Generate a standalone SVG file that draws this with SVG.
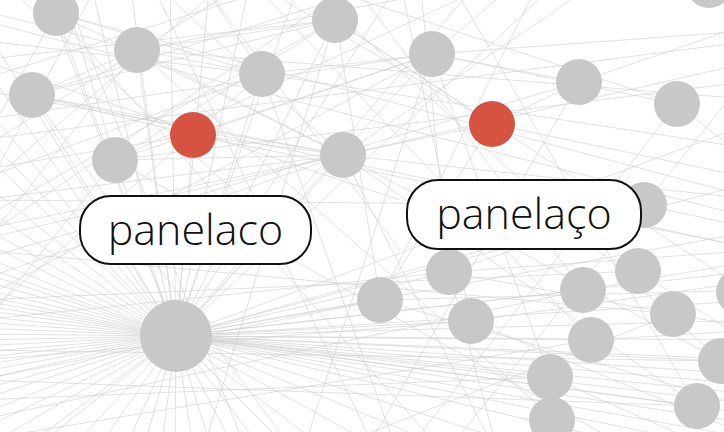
<svg xmlns="http://www.w3.org/2000/svg" width="724" height="432" viewBox="0 0 724 432">
<style>
.e{stroke:#cfcfcf;stroke-width:1;stroke-opacity:0.6;fill:none}
.n{fill:#c8c8c8}
.r{fill:#d65342}
.lb{fill:#fff;stroke:#111;stroke-width:2}
.t{font-family:"Open Sans","Noto Sans",sans-serif;font-size:43px;font-weight:350;fill:#111;text-anchor:middle}
</style>
<rect width="724" height="432" fill="#fff"/>
<g id="edges">
<line class="e" x1="176" y1="336" x2="-20" y2="150"/>
<line class="e" x1="176" y1="336" x2="-20" y2="180"/>
<line class="e" x1="176" y1="336" x2="-20" y2="205"/>
<line class="e" x1="176" y1="336" x2="-20" y2="225"/>
<line class="e" x1="176" y1="336" x2="-20" y2="240"/>
<line class="e" x1="176" y1="336" x2="-20" y2="255"/>
<line class="e" x1="176" y1="336" x2="-20" y2="265"/>
<line class="e" x1="176" y1="336" x2="-20" y2="272"/>
<line class="e" x1="176" y1="336" x2="-20" y2="280"/>
<line class="e" x1="176" y1="336" x2="-20" y2="288"/>
<line class="e" x1="176" y1="336" x2="-20" y2="295"/>
<line class="e" x1="176" y1="336" x2="-20" y2="300"/>
<line class="e" x1="176" y1="336" x2="-20" y2="305"/>
<line class="e" x1="176" y1="336" x2="-20" y2="310"/>
<line class="e" x1="176" y1="336" x2="-20" y2="316"/>
<line class="e" x1="176" y1="336" x2="-20" y2="322"/>
<line class="e" x1="176" y1="336" x2="-20" y2="328"/>
<line class="e" x1="176" y1="336" x2="-20" y2="334"/>
<line class="e" x1="176" y1="336" x2="-20" y2="340"/>
<line class="e" x1="176" y1="336" x2="-20" y2="346"/>
<line class="e" x1="176" y1="336" x2="-20" y2="352"/>
<line class="e" x1="176" y1="336" x2="-20" y2="358"/>
<line class="e" x1="176" y1="336" x2="-20" y2="365"/>
<line class="e" x1="176" y1="336" x2="-20" y2="372"/>
<line class="e" x1="176" y1="336" x2="-20" y2="380"/>
<line class="e" x1="176" y1="336" x2="-20" y2="390"/>
<line class="e" x1="176" y1="336" x2="-20" y2="400"/>
<line class="e" x1="176" y1="336" x2="-20" y2="415"/>
<line class="e" x1="176" y1="336" x2="-20" y2="430"/>
<line class="e" x1="176" y1="336" x2="-20" y2="450"/>
<line class="e" x1="176" y1="336" x2="-20" y2="130"/>
<line class="e" x1="176" y1="336" x2="-20" y2="100"/>
<line class="e" x1="176" y1="336" x2="-20" y2="60"/>
<line class="e" x1="176" y1="336" x2="-20" y2="20"/>
<line class="e" x1="176" y1="336" x2="-20" y2="480"/>
<line class="e" x1="176" y1="336" x2="20" y2="460"/>
<line class="e" x1="176" y1="336" x2="60" y2="460"/>
<line class="e" x1="176" y1="336" x2="90" y2="460"/>
<line class="e" x1="176" y1="336" x2="120" y2="460"/>
<line class="e" x1="176" y1="336" x2="140" y2="460"/>
<line class="e" x1="176" y1="336" x2="160" y2="460"/>
<line class="e" x1="176" y1="336" x2="175" y2="460"/>
<line class="e" x1="176" y1="336" x2="195" y2="460"/>
<line class="e" x1="176" y1="336" x2="215" y2="460"/>
<line class="e" x1="176" y1="336" x2="240" y2="460"/>
<line class="e" x1="176" y1="336" x2="270" y2="460"/>
<line class="e" x1="176" y1="336" x2="300" y2="460"/>
<line class="e" x1="176" y1="336" x2="340" y2="460"/>
<line class="e" x1="176" y1="336" x2="420" y2="470"/>
<line class="e" x1="176" y1="336" x2="500" y2="470"/>
<line class="e" x1="176" y1="336" x2="600" y2="470"/>
<line class="e" x1="176" y1="336" x2="740" y2="470"/>
<line class="e" x1="176" y1="336" x2="760" y2="455"/>
<line class="e" x1="176" y1="336" x2="760" y2="440"/>
<line class="e" x1="176" y1="336" x2="760" y2="425"/>
<line class="e" x1="176" y1="336" x2="760" y2="415"/>
<line class="e" x1="176" y1="336" x2="760" y2="405"/>
<line class="e" x1="176" y1="336" x2="760" y2="395"/>
<line class="e" x1="176" y1="336" x2="760" y2="385"/>
<line class="e" x1="176" y1="336" x2="760" y2="375"/>
<line class="e" x1="176" y1="336" x2="760" y2="360"/>
<line class="e" x1="176" y1="336" x2="760" y2="340"/>
<line class="e" x1="176" y1="336" x2="760" y2="320"/>
<line class="e" x1="176" y1="336" x2="760" y2="300"/>
<line class="e" x1="176" y1="336" x2="760" y2="270"/>
<line class="e" x1="176" y1="336" x2="760" y2="230"/>
<line class="e" x1="176" y1="336" x2="760" y2="180"/>
<line class="e" x1="176" y1="336" x2="760" y2="120"/>
<line class="e" x1="176" y1="336" x2="644" y2="205"/>
<line class="e" x1="176" y1="336" x2="583" y2="290"/>
<line class="e" x1="176" y1="336" x2="449" y2="272"/>
<line class="e" x1="176" y1="336" x2="380" y2="300"/>
<line class="e" x1="176" y1="336" x2="471" y2="321"/>
<line class="e" x1="176" y1="336" x2="590" y2="340"/>
<line class="e" x1="176" y1="336" x2="550" y2="377"/>
<line class="e" x1="176" y1="336" x2="697" y2="406"/>
<line class="e" x1="176" y1="336" x2="721" y2="361"/>
<line class="e" x1="176" y1="336" x2="343" y2="155"/>
<line class="e" x1="176" y1="336" x2="262" y2="74"/>
<line class="e" x1="176" y1="336" x2="335" y2="20"/>
<line class="e" x1="176" y1="336" x2="137" y2="50"/>
<line class="e" x1="176" y1="336" x2="115" y2="160"/>
<line class="e" x1="176" y1="336" x2="32" y2="95"/>
<line class="e" x1="176" y1="336" x2="56" y2="13"/>
<line class="e" x1="176" y1="336" x2="193" y2="135"/>
<line class="e" x1="176" y1="336" x2="432" y2="54"/>
<line class="e" x1="176" y1="336" x2="300" y2="-20"/>
<line class="e" x1="176" y1="336" x2="250" y2="-20"/>
<line class="e" x1="176" y1="336" x2="210" y2="-20"/>
<line class="e" x1="176" y1="336" x2="170" y2="-20"/>
<line class="e" x1="176" y1="336" x2="130" y2="-20"/>
<line class="e" x1="176" y1="336" x2="90" y2="-20"/>
<line class="e" x1="176" y1="336" x2="40" y2="-20"/>
<line class="e" x1="176" y1="336" x2="400" y2="-20"/>
<line class="e" x1="176" y1="336" x2="480" y2="-20"/>
<line class="e" x1="176" y1="336" x2="560" y2="-20"/>
<line class="e" x1="343" y1="155" x2="-20" y2="200"/>
<line class="e" x1="343" y1="155" x2="-20" y2="280"/>
<line class="e" x1="343" y1="155" x2="32" y2="95"/>
<line class="e" x1="343" y1="155" x2="115" y2="160"/>
<line class="e" x1="343" y1="155" x2="760" y2="60"/>
<line class="e" x1="343" y1="155" x2="760" y2="200"/>
<line class="e" x1="343" y1="155" x2="600" y2="-20"/>
<line class="e" x1="343" y1="155" x2="500" y2="460"/>
<line class="e" x1="343" y1="155" x2="137" y2="50"/>
<line class="e" x1="343" y1="155" x2="56" y2="13"/>
<line class="e" x1="343" y1="155" x2="721" y2="361"/>
<line class="e" x1="343" y1="155" x2="697" y2="406"/>
<line class="e" x1="343" y1="155" x2="-20" y2="90"/>
<line class="e" x1="343" y1="155" x2="-20" y2="240"/>
<line class="e" x1="343" y1="155" x2="150" y2="-20"/>
<line class="e" x1="137" y1="50" x2="-20" y2="10"/>
<line class="e" x1="137" y1="50" x2="760" y2="100"/>
<line class="e" x1="137" y1="50" x2="335" y2="20"/>
<line class="e" x1="137" y1="50" x2="262" y2="74"/>
<line class="e" x1="137" y1="50" x2="600" y2="460"/>
<line class="e" x1="137" y1="50" x2="32" y2="95"/>
<line class="e" x1="137" y1="50" x2="500" y2="-20"/>
<line class="e" x1="137" y1="50" x2="-20" y2="250"/>
<line class="e" x1="262" y1="74" x2="-20" y2="40"/>
<line class="e" x1="262" y1="74" x2="760" y2="150"/>
<line class="e" x1="262" y1="74" x2="432" y2="54"/>
<line class="e" x1="262" y1="74" x2="400" y2="460"/>
<line class="e" x1="262" y1="74" x2="-20" y2="180"/>
<line class="e" x1="262" y1="74" x2="200" y2="-20"/>
<line class="e" x1="262" y1="74" x2="-20" y2="320"/>
<line class="e" x1="32" y1="95" x2="400" y2="-20"/>
<line class="e" x1="32" y1="95" x2="760" y2="250"/>
<line class="e" x1="32" y1="95" x2="335" y2="20"/>
<line class="e" x1="32" y1="95" x2="300" y2="460"/>
<line class="e" x1="32" y1="95" x2="193" y2="135"/>
<line class="e" x1="56" y1="13" x2="760" y2="200"/>
<line class="e" x1="56" y1="13" x2="450" y2="460"/>
<line class="e" x1="56" y1="13" x2="262" y2="74"/>
<line class="e" x1="56" y1="13" x2="-20" y2="150"/>
<line class="e" x1="115" y1="160" x2="760" y2="80"/>
<line class="e" x1="115" y1="160" x2="500" y2="-20"/>
<line class="e" x1="115" y1="160" x2="-20" y2="330"/>
<line class="e" x1="115" y1="160" x2="432" y2="54"/>
<line class="e" x1="115" y1="160" x2="650" y2="460"/>
<line class="e" x1="115" y1="160" x2="60" y2="-20"/>
<line class="e" x1="335" y1="20" x2="-20" y2="220"/>
<line class="e" x1="335" y1="20" x2="760" y2="300"/>
<line class="e" x1="335" y1="20" x2="492" y2="124"/>
<line class="e" x1="335" y1="20" x2="200" y2="460"/>
<line class="e" x1="335" y1="20" x2="115" y2="160"/>
<line class="e" x1="335" y1="20" x2="-20" y2="60"/>
<line class="e" x1="432" y1="54" x2="-20" y2="120"/>
<line class="e" x1="432" y1="54" x2="-20" y2="300"/>
<line class="e" x1="432" y1="54" x2="760" y2="30"/>
<line class="e" x1="432" y1="54" x2="579" y2="82"/>
<line class="e" x1="432" y1="54" x2="550" y2="377"/>
<line class="e" x1="432" y1="54" x2="300" y2="460"/>
<line class="e" x1="432" y1="54" x2="677" y2="104"/>
<line class="e" x1="432" y1="54" x2="520" y2="-20"/>
<line class="e" x1="193" y1="135" x2="432" y2="54"/>
<line class="e" x1="193" y1="135" x2="343" y2="155"/>
<line class="e" x1="193" y1="135" x2="760" y2="250"/>
<line class="e" x1="193" y1="135" x2="-20" y2="170"/>
<line class="e" x1="492" y1="124" x2="579" y2="82"/>
<line class="e" x1="492" y1="124" x2="760" y2="180"/>
<line class="e" x1="492" y1="124" x2="250" y2="-20"/>
<line class="e" x1="492" y1="124" x2="380" y2="300"/>
<line class="e" x1="492" y1="124" x2="-20" y2="230"/>
<line class="e" x1="579" y1="82" x2="760" y2="20"/>
<line class="e" x1="579" y1="82" x2="360" y2="460"/>
<line class="e" x1="579" y1="82" x2="-20" y2="260"/>
<line class="e" x1="677" y1="104" x2="400" y2="460"/>
<line class="e" x1="677" y1="104" x2="300" y2="-20"/>
<line class="e" x1="677" y1="104" x2="760" y2="170"/>
<line class="e" x1="644" y1="205" x2="-20" y2="200"/>
<line class="e" x1="644" y1="205" x2="760" y2="230"/>
<line class="e" x1="644" y1="205" x2="449" y2="272"/>
<line class="e" x1="449" y1="272" x2="-20" y2="320"/>
<line class="e" x1="449" y1="272" x2="760" y2="330"/>
<line class="e" x1="449" y1="272" x2="760" y2="250"/>
<line class="e" x1="449" y1="272" x2="420" y2="-20"/>
<line class="e" x1="449" y1="272" x2="500" y2="460"/>
<line class="e" x1="380" y1="300" x2="-20" y2="380"/>
<line class="e" x1="380" y1="300" x2="760" y2="410"/>
<line class="e" x1="380" y1="300" x2="540" y2="-20"/>
<line class="e" x1="380" y1="300" x2="330" y2="-20"/>
<line class="e" x1="380" y1="300" x2="760" y2="290"/>
<line class="e" x1="471" y1="321" x2="-20" y2="360"/>
<line class="e" x1="471" y1="321" x2="760" y2="280"/>
<line class="e" x1="471" y1="321" x2="400" y2="-20"/>
<line class="e" x1="471" y1="321" x2="760" y2="440"/>
<line class="e" x1="583" y1="290" x2="-20" y2="420"/>
<line class="e" x1="583" y1="290" x2="760" y2="260"/>
<line class="e" x1="583" y1="290" x2="350" y2="-20"/>
<line class="e" x1="638" y1="271" x2="-20" y2="300"/>
<line class="e" x1="638" y1="271" x2="760" y2="350"/>
<line class="e" x1="673" y1="314" x2="-20" y2="250"/>
<line class="e" x1="673" y1="314" x2="300" y2="460"/>
<line class="e" x1="591" y1="340" x2="-20" y2="440"/>
<line class="e" x1="591" y1="340" x2="760" y2="330"/>
<line class="e" x1="591" y1="340" x2="250" y2="-20"/>
<line class="e" x1="550" y1="377" x2="-20" y2="400"/>
<line class="e" x1="550" y1="377" x2="760" y2="470"/>
<line class="e" x1="697" y1="406" x2="-20" y2="380"/>
<line class="e" x1="697" y1="406" x2="450" y2="-20"/>
<line class="e" x1="721" y1="361" x2="-20" y2="350"/>
<line class="e" x1="721" y1="361" x2="300" y2="-20"/>
<line class="e" x1="-20" y1="60" x2="400" y2="200"/>
<line class="e" x1="0" y1="-20" x2="300" y2="250"/>
<line class="e" x1="100" y1="-20" x2="-20" y2="200"/>
<line class="e" x1="250" y1="-20" x2="-20" y2="150"/>
<line class="e" x1="-20" y1="240" x2="360" y2="-20"/>
<line class="e" x1="200" y1="-20" x2="400" y2="250"/>
<line class="e" x1="-20" y1="20" x2="760" y2="220"/>
<line class="e" x1="-20" y1="140" x2="760" y2="40"/>
<line class="e" x1="150" y1="-20" x2="380" y2="460"/>
<line class="e" x1="60" y1="-20" x2="250" y2="460"/>
<line class="e" x1="-20" y1="80" x2="300" y2="-20"/>
<line class="e" x1="-20" y1="190" x2="230" y2="-20"/>
<line class="e" x1="760" y1="60" x2="440" y2="460"/>
</g>
<g id="n1"><circle class="n" cx="56" cy="13" r="23"/></g>
<g id="n2"><circle class="n" cx="137" cy="50" r="23"/></g>
<g id="n3"><circle class="n" cx="32" cy="95" r="23"/></g>
<g id="n4"><circle class="n" cx="115" cy="160" r="23"/></g>
<g id="n5"><circle class="r" cx="193" cy="135" r="23"/></g>
<g id="n6"><circle class="n" cx="262" cy="74" r="23"/></g>
<g id="n7"><circle class="n" cx="335" cy="20" r="23"/></g>
<g id="n8"><circle class="n" cx="343" cy="155" r="23"/></g>
<g id="n9"><circle class="n" cx="432" cy="54" r="23"/></g>
<g id="n10"><circle class="r" cx="492" cy="124" r="23"/></g>
<g id="n11"><circle class="n" cx="579" cy="82" r="23"/></g>
<g id="n12"><circle class="n" cx="677" cy="104" r="23"/></g>
<g id="n13"><circle class="n" cx="709" cy="-15" r="23"/></g>
<g id="n14"><circle class="n" cx="644" cy="205" r="23"/></g>
<g id="n15"><circle class="n" cx="449" cy="272" r="23"/></g>
<g id="n16"><circle class="n" cx="380" cy="300" r="23"/></g>
<g id="n17"><circle class="n" cx="471" cy="321" r="23"/></g>
<g id="n18"><circle class="n" cx="583" cy="290" r="23"/></g>
<g id="n19"><circle class="n" cx="638" cy="271" r="23"/></g>
<g id="n20"><circle class="n" cx="673" cy="314" r="23"/></g>
<g id="n21"><circle class="n" cx="739" cy="292" r="23"/></g>
<g id="n22"><circle class="n" cx="591" cy="340" r="23"/></g>
<g id="n23"><circle class="n" cx="721" cy="361" r="23"/></g>
<g id="n24"><circle class="n" cx="550" cy="377" r="23"/></g>
<g id="n25"><circle class="n" cx="552" cy="420" r="23"/></g>
<g id="n26"><circle class="n" cx="697" cy="406" r="23"/></g>
<g id="hub"><circle class="n" cx="176" cy="336" r="36"/></g>
<g id="label1">
<rect class="lb" x="80" y="196" width="231" height="68" rx="31"/>
<text class="t" x="195.5" y="245">panelaco</text>
</g>
<g id="label2">
<rect class="lb" x="407" y="180" width="234" height="69" rx="31"/>
<text class="t" x="524" y="229">panelaço</text>
</g>
</svg>
